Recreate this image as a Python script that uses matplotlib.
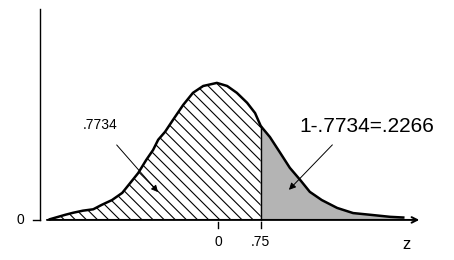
import matplotlib.pyplot as plt
from matplotlib.patches import FancyArrowPatch

# curve points (z, height)
z_vals = [-2.95, -2.68, -2.54, -2.37, -2.19, -2.04, -1.86, -1.68, -1.54, -1.40,
          -1.26, -1.14, -1.05, -0.93, -0.79, -0.61, -0.44, -0.26, -0.02, 0.16,
          0.33, 0.51, 0.65, 0.75, 0.91, 1.09, 1.26, 1.44, 1.61, 1.82,
          2.09, 2.37, 2.67, 3.02, 3.25]
dens_vals = [0.002, 0.015, 0.021, 0.027, 0.031, 0.044, 0.058, 0.079, 0.108, 0.137,
             0.175, 0.204, 0.234, 0.257, 0.292, 0.336, 0.371, 0.391, 0.400, 0.391,
             0.371, 0.342, 0.312, 0.274, 0.242, 0.196, 0.152, 0.117, 0.082, 0.058,
             0.035, 0.020, 0.015, 0.009, 0.007]
cut = 0.75
tick_pos = [0, 0.75]
tick_labels = ["0", ".75"]
left_label = ".7734"
right_label = "1-.7734=.2266"

plt.rcParams["font.family"] = ["Liberation Sans", "DejaVu Sans"]
plt.rcParams["hatch.linewidth"] = 0.8

fig = plt.figure(figsize=(4.54, 2.6), dpi=100)
ax = fig.add_axes([0, 0, 1, 1])
ax.set_xlim(-3.825, 4.14)
ax.set_ylim(-0.117, 0.642)
ax.axis("off")

n_left = len([z for z in z_vals if z <= cut])
left_z, left_d = z_vals[:n_left], dens_vals[:n_left]
right_z, right_d = z_vals[n_left - 1:], dens_vals[n_left - 1:]

ax.fill_between(left_z, 0, left_d, facecolor="white", edgecolor="black",
                hatch="\\\\\\", linewidth=0)
ax.fill_between(right_z, 0, right_d, facecolor="#b4b4b4", linewidth=0)
ax.plot(z_vals, dens_vals, color="black", lw=1.8, solid_joinstyle="round")
ax.plot([cut, cut], [0, dens_vals[n_left - 1]], color="black", lw=1)

# axes drawn by hand
ax.plot([-3.12, -3.12], [0, 0.616], color="black", lw=1)
ax.plot([-3.24, -3.12], [0, 0], color="black", lw=1)
ax.text(-3.47, 0, "0", fontsize=10, ha="center", va="center")
ax.annotate("", xy=(3.58, 0), xytext=(-3.05, 0),
            arrowprops=dict(arrowstyle="->", color="black", lw=1.4,
                            mutation_scale=10))
for t, lab in zip(tick_pos, tick_labels):
    ax.plot([t, t], [-0.006, -0.024], color="black", lw=1)
    ax.text(t, -0.064, lab, fontsize=10, ha="center", va="center")
ax.text(3.3, -0.073, "z", fontsize=12, ha="center", va="center")

# annotations with arrows
ax.text(-2.07, 0.277, left_label, fontsize=10, ha="center", va="center")
ax.add_patch(FancyArrowPatch((-1.81, 0.225), (-1.02, 0.075),
                             arrowstyle="-|>", mutation_scale=10,
                             color="black", lw=0.7))
ax.text(2.61, 0.272, right_label, fontsize=15, ha="center", va="center")
ax.add_patch(FancyArrowPatch((2.04, 0.225), (1.21, 0.082),
                             arrowstyle="-|>", mutation_scale=10,
                             color="black", lw=0.7))

fig.savefig("out.png", dpi=100)
